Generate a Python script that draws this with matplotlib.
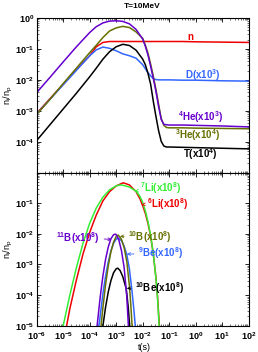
import numpy as np
import matplotlib
matplotlib.use('Agg')
import matplotlib.pyplot as plt
from matplotlib import ticker

plt.rcParams['font.family'] = ['Liberation Sans', 'DejaVu Sans']
plt.rcParams['font.weight'] = 'bold'
plt.rcParams['mathtext.fontset'] = 'custom'
plt.rcParams['mathtext.rm'] = 'Liberation Sans:bold'
plt.rcParams['mathtext.bf'] = 'Liberation Sans:bold'
plt.rcParams['mathtext.default'] = 'bf'

# ---- upper panel: log10 of n_i/n_p on a shared log10(t) grid ----
t_top = [-6, -5.5, -5, -4.5, -4, -3.75, -3.5, -3.25, -3, -2.75, -2.5, -2.25,
         -2, -1.9, -1.8, -1.7, -1.6, -1.5, -1.4, -1.3, -1.2, -1.1, -1, -0.5, 0, 1, 2]
n_log = [-3.08, -2.61, -2.14, -1.67, -1.22, -0.93, -0.79, -0.76, -0.76, -0.76, -0.76, -0.76,
         -0.76, -0.76, -0.76, -0.76, -0.76, -0.76, -0.76, -0.76, -0.76, -0.76, -0.76, -0.76, -0.77, -0.78, -0.79]
d_log = [-3.10, -2.63, -2.16, -1.69, -1.22, -1.03, -0.94, -0.98, -1.06, -1.16, -1.22, -1.30,
         -1.51, -1.64, -1.77, -1.87, -1.96, -1.99, -2.00, -2.00, -2.00, -2.00, -2.00, -2.01, -2.01, -2.03, -2.04]
he4_log = [-2.41, -1.92, -1.42, -0.93, -0.47, -0.28, -0.16, -0.10, -0.09, -0.11, -0.19, -0.37,
           -0.68, -0.91, -1.20, -1.56, -1.95, -2.37, -2.86, -3.28, -3.44, -3.45, -3.46, -3.46, -3.47, -3.49, -3.52]
he3_log = [-3.12, -2.63, -2.12, -1.62, -1.12, -0.88, -0.63, -0.42, -0.32, -0.27, -0.31, -0.45,
           -0.66, -0.88, -1.14, -1.49, -1.88, -2.31, -2.79, -3.25, -3.47, -3.54, -3.55, -3.55, -3.56, -3.57, -3.58]
tr_log = [-3.96, -3.45, -2.94, -2.43, -1.90, -1.62, -1.33, -1.09, -0.93, -0.85, -0.89, -1.04,
          -1.33, -1.51, -1.79, -2.14, -2.69, -3.18, -3.64, -3.99, -4.14, -4.17, -4.17, -4.18, -4.19, -4.21, -4.23]

# ---- lower panel: each species has its own log10(t) points ----
li7_t = [-5.1, -5.0, -4.75, -4.5, -4.25, -4.0, -3.75, -3.5, -3.25, -3.0, -2.86, -2.75,
         -2.5, -2.25, -2.1, -2.0, -1.9, -1.8, -1.7, -1.6, -1.5, -1.44, -1.38, -1.34]
li7_log = [-5.4, -5.0, -4.0, -3.1, -2.3, -1.65, -1.15, -0.80, -0.56, -0.43, -0.40, -0.41,
           -0.47, -0.60, -0.78, -0.97, -1.25, -1.60, -2.05, -2.65, -3.45, -4.10, -5.00, -5.60]
li6_t = [-4.97, -4.87, -4.75, -4.5, -4.25, -4.0, -3.75, -3.5, -3.25, -3.0, -2.73, -2.5,
         -2.25, -2.1, -2.0, -1.9, -1.8, -1.7, -1.6, -1.5, -1.44, -1.37, -1.33]
li6_log = [-5.4, -5.0, -4.45, -3.5, -2.65, -1.95, -1.38, -0.92, -0.62, -0.43, -0.33, -0.40,
           -0.62, -0.86, -1.08, -1.33, -1.66, -2.08, -2.65, -3.42, -4.05, -5.00, -5.60]
b11_t = [-3.8, -3.72, -3.6, -3.5, -3.4, -3.3, -3.2, -3.1, -3.05, -3.0, -2.9, -2.8, -2.7, -2.6, -2.54, -2.5]
b11_log = [-5.6, -5.0, -4.04, -3.37, -2.83, -2.43, -2.16, -2.03, -2.01, -2.02, -2.20, -2.55, -3.10, -4.05, -5.0, -5.6]
b10_t = [-3.65, -3.57, -3.5, -3.4, -3.3, -3.2, -3.1, -3.0, -2.92, -2.8, -2.7, -2.6, -2.5, -2.45, -2.4, -2.37]
b10_log = [-5.6, -5.0, -4.40, -3.65, -3.05, -2.59, -2.27, -2.08, -2.04, -2.18, -2.45, -2.90, -3.70, -4.30, -5.0, -5.5]
be9_t = [-3.72, -3.65, -3.5, -3.4, -3.3, -3.2, -3.1, -3.0, -2.92, -2.8, -2.7, -2.6, -2.5, -2.4, -2.33, -2.28, -2.25]
be9_log = [-5.6, -5.0, -3.95, -3.38, -2.92, -2.56, -2.31, -2.17, -2.14, -2.22, -2.40, -2.68, -3.15, -3.90, -4.50, -5.0, -5.4]
be10_t = [-3.58, -3.5, -3.4, -3.3, -3.2, -3.1, -3.0, -2.94, -2.85, -2.75, -2.62, -2.55, -2.49, -2.46]
be10_log = [-5.5, -5.0, -4.39, -3.90, -3.53, -3.27, -3.14, -3.12, -3.20, -3.40, -3.80, -4.35, -5.0, -5.5]

RED = '#ee0000'
BLUE = '#3366ff'
PURPLE = '#6600cc'
OLIVE = '#667000'
GREEN = '#33ee33'


def p(v):
    return 10.0 ** np.asarray(v)


fig = plt.figure(figsize=(2.58, 3.52), dpi=100)
ax1 = fig.add_axes([0.1422, 0.5094, 0.8217, 0.4395])
ax2 = fig.add_axes([0.1422, 0.0747, 0.8217, 0.4347])

lw = 1.1
ax1.plot(p(t_top), p(n_log), color=RED, lw=lw)
ax1.plot(p(t_top), p(d_log), color=BLUE, lw=lw)
ax1.plot(p(t_top), p(tr_log), color='black', lw=lw)
ax1.plot(p(t_top), p(he3_log), color=OLIVE, lw=lw)
ax1.plot(p(t_top), p(he4_log), color=PURPLE, lw=lw)

ax2.plot(p(li6_t), p(li6_log), color=RED, lw=lw)
ax2.plot(p(li7_t), p(li7_log), color=GREEN, lw=lw)
ax2.plot(p(be10_t), p(be10_log), color='black', lw=lw)
ax2.plot(p(be9_t), p(be9_log), color=BLUE, lw=lw)
ax2.plot(p(b10_t), p(b10_log), color=OLIVE, lw=lw)
ax2.plot(p(b11_t), p(b11_log), color=PURPLE, lw=lw)

for ax in (ax1, ax2):
    ax.set_xscale('log')
    ax.set_yscale('log')
    ax.set_xlim(1e-6, 1e2)
    ax.set_ylim(1e-5, 1e0)
    ax.set_xticks([10.0 ** k for k in range(-6, 3)])
    ax.xaxis.set_minor_locator(ticker.LogLocator(base=10, subs=np.arange(2, 10), numticks=100))
    ax.yaxis.set_minor_locator(ticker.LogLocator(base=10, subs=np.arange(2, 10), numticks=100))
    ax.xaxis.set_minor_formatter(ticker.NullFormatter())
    ax.yaxis.set_minor_formatter(ticker.NullFormatter())
    ax.tick_params(which='both', direction='in', top=True, right=True, labelsize=6.5, pad=2)
    ax.tick_params(axis='x', which='major', pad=3.5)
    ax.tick_params(which='major', length=3, width=0.6)
    ax.tick_params(which='minor', length=1.5, width=0.4)
    for s in ax.spines.values():
        s.set_linewidth(0.8)
    ax.set_ylabel(r'$\mathdefault{n_i/n_p}$', fontsize=6.5)
    ax.yaxis.set_label_coords(-0.10, 0.5)

ax1.set_yticks([1e0, 1e-1, 1e-2, 1e-3, 1e-4])
ax1.tick_params(labelbottom=False)
ax2.set_yticks([1e-1, 1e-2, 1e-3, 1e-4, 1e-5])
ax2.set_xlabel('t(s)', fontsize=6.5)
ax2.xaxis.set_label_coords(0.51, -0.11)

fig.text(0.553, 1 - 8.3 / 352, 'T=10MeV', ha='center', va='baseline', fontsize=6)

fs = 7
ax1.text(10 ** -0.32, 10 ** -0.72, 'n', color=RED, fontsize=fs)
ax1.text(10 ** -0.40, 10 ** -1.96, r'$\mathdefault{D(x10^{3})}$', color=BLUE, fontsize=fs)
ax1.text(10 ** -0.66, 10 ** -3.33, r'$\mathdefault{^{4}He(x10^{3})}$', color=PURPLE, fontsize=fs)
ax1.text(10 ** -0.78, 10 ** -3.91, r'$\mathdefault{^{3}He(x10^{4})}$', color=OLIVE, fontsize=fs)
ax1.text(10 ** -0.47, 10 ** -4.52, r'$\mathdefault{T(x10^{4})}$', color='black', fontsize=fs)


def tag(ax, txt, color, tip, pos, ha='left'):
    ax.annotate(txt, xy=(10 ** tip[0], 10 ** tip[1]), xytext=(10 ** pos[0], 10 ** pos[1]),
                color=color, fontsize=fs, ha=ha, va='baseline',
                arrowprops=dict(arrowstyle='->', color=color, lw=0.6,
                                shrinkA=1, shrinkB=0, mutation_scale=5))


tag(ax2, r'$\mathdefault{^{7}Li(x10^{8})}$', GREEN, (-2.30, -0.60), (-2.10, -0.64))
tag(ax2, r'$\mathdefault{^{6}Li(x10^{8})}$', RED, (-2.04, -1.04), (-1.85, -1.14))
tag(ax2, r'$\mathdefault{^{11}B(x10^{8})}$', PURPLE, (-3.17, -2.18), (-3.61, -2.25), ha='right')
tag(ax2, r'$\mathdefault{^{10}B(x10^{8})}$', OLIVE, (-2.86, -2.08), (-2.54, -2.22))
tag(ax2, r'$\mathdefault{^{9}Be(x10^{8})}$', BLUE, (-2.60, -2.66), (-2.17, -2.77))
tag(ax2, r'$\mathdefault{^{10}Be(x10^{8})}$', 'black', (-2.60, -3.78), (-2.29, -3.89))

fig.savefig('out.png', dpi=100)
